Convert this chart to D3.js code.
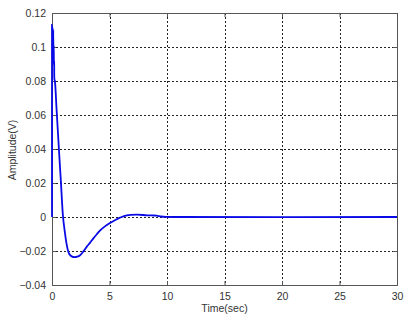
<!DOCTYPE html>
<html>
<head>
<meta charset="utf-8">
<script src="https://cdn.jsdelivr.net/npm/d3@7"></script>
<style>
  body { margin: 0; background: #fff; }
  svg { display: block; font-family: "Liberation Sans", Arial, sans-serif; }
</style>
</head>
<body>
<div class="canvas"></div>
<script>
// data
const time = [0, 0, 0.01, 0.03, 0.05, 0.07, 0.09, 0.11, 0.13, 0.15, 0.17, 0.19, 0.21, 0.25,
  0.4, 0.6, 0.78, 0.96, 1.1, 1.26, 1.49, 1.75, 1.98, 2.2, 2.42, 2.7, 3.0, 3.3, 3.58, 3.9, 4.17, 4.6, 5.04,
  5.5, 5.91, 6.5, 7.37, 8.24, 8.7, 9.1, 9.5, 10, 11, 30];
const amplitude = [0, 0.113, 0.100, 0.112, 0.101, 0.111, 0.100, 0.110, 0.090, 0.101, 0.089, 0.092, 0.081, 0.080,
  0.063, 0.040, 0.020, 0, -0.008, -0.0155, -0.0216, -0.0233, -0.0236, -0.0233, -0.0226, -0.0205, -0.0177, -0.0152, -0.0127, -0.0101, -0.0080, -0.0055, -0.0035,
  -0.0018, -0.0004, 0.001, 0.0014, 0.001, 0.0009, 0.0008, 0.0003, 0.0001, 0, 0];
const xTicks = [0, 5, 10, 15, 20, 25, 30];
const yTicks = [-0.04, -0.02, 0, 0.02, 0.04, 0.06, 0.08, 0.1, 0.12];

const W = 414, H = 321;
const margin = {top: 13, right: 17, bottom: 36, left: 52};
const graphWidth = W - margin.left - margin.right;
const graphHeight = H - margin.top - margin.bottom;

const svg = d3.select('.canvas')
    .append('svg')
    .attr('width', W)
    .attr('height', H);

const graph = svg.append('g')
    .attr('transform', `translate(${margin.left}, ${margin.top})`);

// scales
const x = d3.scaleLinear().domain([0, 30]).range([0, graphWidth]);
const y = d3.scaleLinear().domain([-0.04, 0.12]).range([graphHeight, 0]);

// grid
const grid = graph.append('g');
grid.selectAll('line.gx')
    .data(xTicks.slice(1, -1))
    .enter().append('line')
    .attr('x1', d => Math.round(x(d)) + 0.5).attr('x2', d => Math.round(x(d)) + 0.5)
    .attr('y1', 0).attr('y2', graphHeight)
    .attr('stroke', '#222').attr('stroke-dasharray', '2,2');
grid.selectAll('line.gy')
    .data(yTicks.slice(1, -1))
    .enter().append('line')
    .attr('y1', d => Math.round(y(d)) + 0.5).attr('y2', d => Math.round(y(d)) + 0.5)
    .attr('x1', 0).attr('x2', graphWidth)
    .attr('stroke', '#222').attr('stroke-dasharray', '2,2');

// axes
const xAxis = d3.axisBottom(x).tickValues(xTicks).tickSize(-4).tickPadding(8).tickFormat(d3.format('d'));
const yAxis = d3.axisLeft(y).tickValues(yTicks).tickSize(-4).tickPadding(6).tickFormat(d => d === 0 ? '0' : d3.format('~g')(d));
const xAxisTop = d3.axisTop(x).tickValues(xTicks).tickSize(-4).tickFormat('');
const yAxisRight = d3.axisRight(y).tickValues(yTicks).tickSize(-4).tickFormat('');

const styleAxis = g => {
    g.selectAll('path, line').attr('stroke', '#555');
    g.selectAll('text').attr('fill', '#333').attr('font-size', 10.5);
};

graph.append('g').attr('transform', `translate(0, ${graphHeight})`).call(xAxis).call(styleAxis);
graph.append('g').call(yAxis).call(styleAxis);
graph.append('g').call(xAxisTop).call(styleAxis);
graph.append('g').attr('transform', `translate(${graphWidth}, 0)`).call(yAxisRight).call(styleAxis);

// response curve
const pts = time.map((t, i) => [t, amplitude[i]]);
const line = d3.line()
    .x(d => x(d[0]))
    .y(d => y(d[1]))
    .curve(d3.curveCatmullRom.alpha(0.5));

graph.append('path')
    .datum(pts)
    .attr('fill', 'none')
    .attr('stroke', '#0a0ae6')
    .attr('stroke-width', 1.8)
    .attr('d', line);

// labels
svg.append('text')
    .attr('x', margin.left + graphWidth / 2)
    .attr('y', 312)
    .attr('text-anchor', 'middle')
    .attr('font-size', 10.5)
    .attr('fill', '#333')
    .text('Time(sec)');

svg.append('text')
    .attr('transform', `translate(16, 150) rotate(-90)`)
    .attr('text-anchor', 'middle')
    .attr('font-size', 10.5)
    .attr('fill', '#333')
    .text('Amplitude(V)');
</script>
</body>
</html>
